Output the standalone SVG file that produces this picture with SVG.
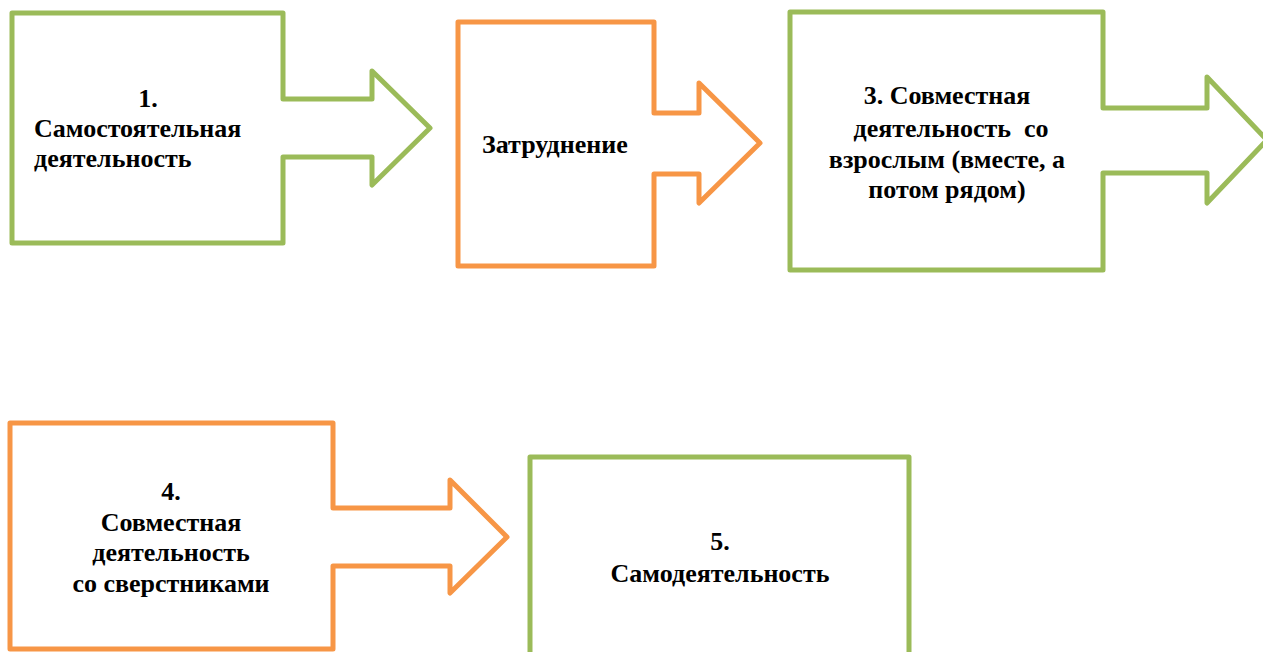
<svg xmlns="http://www.w3.org/2000/svg" width="1263" height="652" viewBox="0 0 1263 652">
<style>
.sh{fill:#fff;stroke-width:5;stroke-linejoin:round}
.g{stroke:#9BBB59}
.o{stroke:#F79646}
.t{font-family:"Liberation Serif","Times New Roman",serif;font-weight:bold;font-size:26px;fill:#000}
.c{text-anchor:middle}
</style>
<rect width="1263" height="652" fill="#fff"/>
<g id="node1">
<path class="sh g" d="M12,13 H283 V99 H372 V71 L430,128 L372,185 V157 H283 V243 H12 Z"/>
<text class="t c" x="148" y="107">1.</text>
<text class="t" x="34" y="137">Самостоятельная</text>
<text class="t" x="34" y="167">деятельность</text>
</g>
<g id="node2">
<path class="sh o" d="M458,22 H654 V113 H699 V83 L760,143 L699,203 V174 H654 V266 H458 Z"/>
<text class="t" x="482" y="153">Затруднение</text>
</g>
<g id="node3">
<path class="sh g" d="M790,12 H1103 V108 H1207 V77 L1267,140 L1207,203 V173 H1103 V270 H790 Z"/>
<text class="t c" x="947" y="104">3. Совместная</text>
<text class="t c" x="951" y="137" xml:space="preserve">деятельность  со</text>
<text class="t c" x="947" y="168">взрослым (вместе, а</text>
<text class="t c" x="947" y="198">потом рядом)</text>
</g>
<g id="node4">
<path class="sh o" d="M10,423 H333 V508 H450 V480 L507,537 L450,593 V566 H333 V649 H10 Z"/>
<text class="t c" x="171" y="500">4.</text>
<text class="t c" x="171" y="531">Совместная</text>
<text class="t c" x="171" y="561">деятельность</text>
<text class="t c" x="171" y="592">со сверстниками</text>
</g>
<g id="node5">
<path class="sh g" d="M530,457 H909 V670 H530 Z"/>
<text class="t c" x="720" y="550">5.</text>
<text class="t c" x="720" y="582">Самодеятельность</text>
</g>
<g id="connectors"></g>
</svg>
